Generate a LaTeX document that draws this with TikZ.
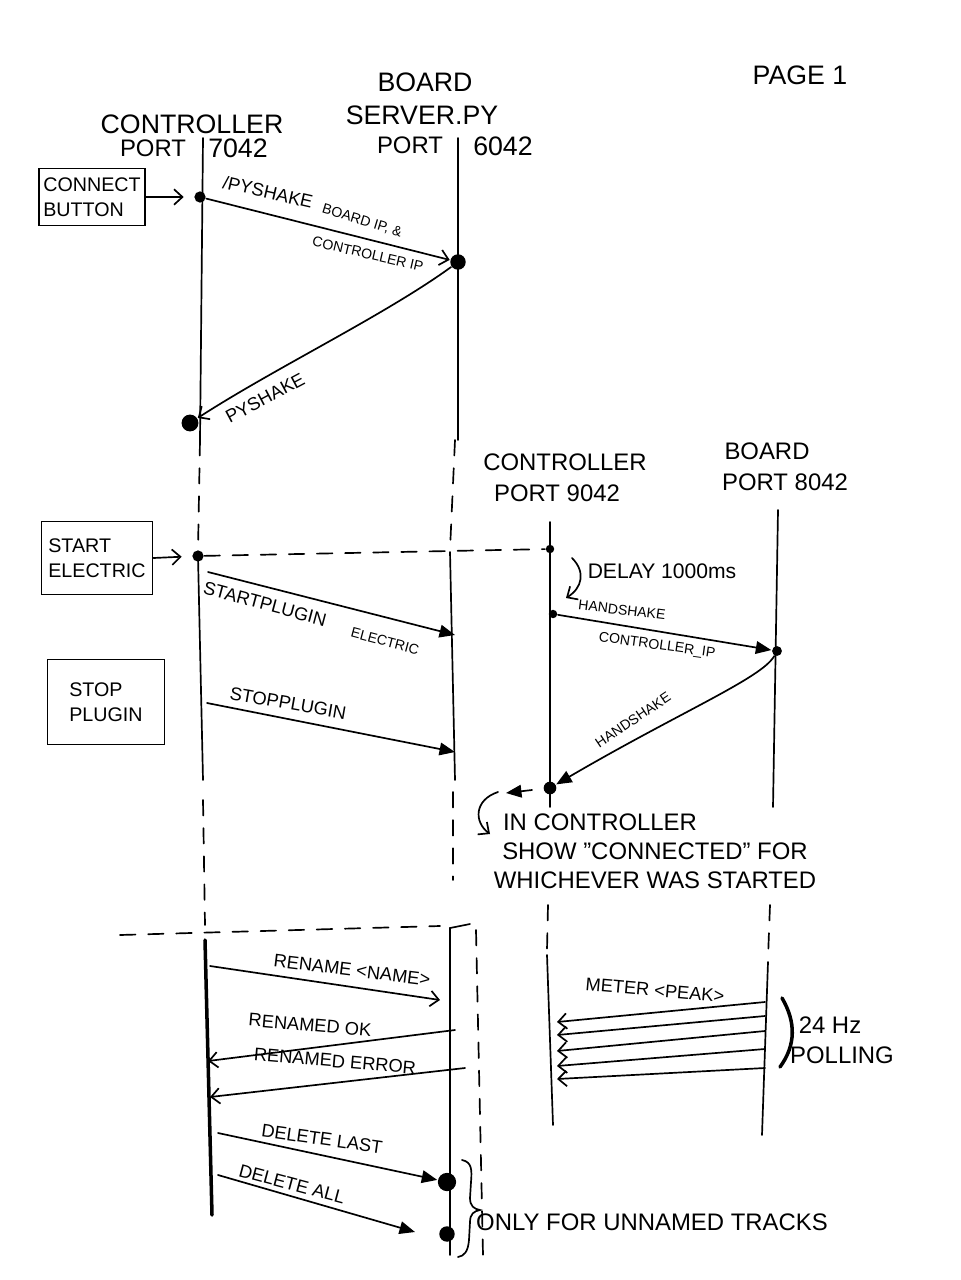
\documentclass[tikz,border=0pt]{standalone}
\usepackage{fontspec}
\setmainfont{Liberation Sans}
\usetikzlibrary{arrows.meta}
\begin{document}
\begin{tikzpicture}[x=0.025cm,y=-0.025cm,line width=1.2pt,line cap=round,
  dotnode/.style={circle,fill=black,inner sep=0pt,minimum size=8pt},
  hdr/.style={font=\fontsize{19}{22}\selectfont,inner sep=1pt},
  big/.style={font=\fontsize{17}{21}\selectfont,inner sep=1pt},
  lbl/.style={font=\fontsize{13}{15}\selectfont,inner sep=1pt},
  sml/.style={font=\fontsize{10}{12}\selectfont,inner sep=1pt},
  msg/.style={-{Triangle[length=11pt,width=9pt]}},
  openmsg/.style={-{Straight Barb[length=6pt,width=11pt]}},
  dashline/.style={dash pattern=on 11pt off 9pt},
  btn/.style={draw,align=left,inner sep=3pt,font=\fontsize{14}{18}\selectfont}]
\useasboundingbox (0,0) rectangle (960,1280);
\fill[white] (0,0) rectangle (960,1280);

% headers
\node[hdr] (hA) at (192,124) {CONTROLLER};
\node[big] (hA1) at (153,148) {PORT};
\node[hdr] (hA2) at (238,148) {7042};
\node[hdr] (hB0) at (425,82) {BOARD};
\node[hdr] (hB) at (422,115) {SERVER.PY};
\node[big] (hB1) at (410,145) {PORT};
\node[hdr] (hB2) at (503,146) {6042};
\node[hdr] (pg) at (800,75) {PAGE 1};
\node[big] (hC) at (565,462) {CONTROLLER};
\node[big] (hC1) at (557,493) {PORT 9042};
\node[big] (hD0) at (767,451) {BOARD};
\node[big] (hD1) at (785,482) {PORT 8042};

% lifeline A
\draw (203,138) -- (200,440);
\draw[dashline] (200,440) -- (198,550);
\draw (198,556) -- (203,780);
\draw[dashline] (203,800) -- (205,925);
\draw[line width=2.5pt] (205,940) -- (212,1215);
% lifeline B
\draw (458,138) -- (458,440);
\draw[dashline] (455,440) -- (450,550);
\draw (450,552) -- (455,780);
\draw[dashline] (453,792) -- (453,880);
\draw (450,1255) -- (450,928) -- (470,924);
\draw[dashline] (476,930) -- (483,1255);
% lifeline C
\draw (550,522) -- (550,807);
\draw[dashline] (548,905) -- (547,950);
\draw (547,955) -- (553,1125);
% lifeline D
\draw (778,510) -- (773,807);
\draw[dashline] (770,905) -- (768,958);
\draw (768,962) -- (762,1135);
% separator
\draw[dashline] (120,935) -- (440,926);

% dots
\node[dotnode] (a1) at (200,197) {};
\node[dotnode,minimum size=11pt] (b1) at (458,262) {};
\node[dotnode,minimum size=12pt] (a2) at (190,423) {};
\node[dotnode,minimum size=8pt] (a3) at (198,556) {};
\node[dotnode,minimum size=6pt] (c1) at (550,549) {};
\node[dotnode,minimum size=6pt] (c2) at (553,614) {};
\node[dotnode,minimum size=7pt] (d1) at (777,651) {};
\node[dotnode,minimum size=9pt] (c3) at (550,788) {};
\node[dotnode,minimum size=13pt] (b2) at (447,1182) {};
\node[dotnode,minimum size=11pt] (b3) at (447,1234) {};

% buttons
\node[btn,minimum width=2.525cm,minimum height=1.425cm] (cb) at (92,197) {CONNECT\\BUTTON};
\node[btn,minimum width=2.775cm,minimum height=1.825cm] (sb) at (97,558) {START\\ELECTRIC};
\node[btn,minimum width=2.925cm,minimum height=2.125cm] (pb) at (106,702) {STOP\\PLUGIN};
\draw[openmsg,shorten >=7pt] (cb.east) -- (a1);
\draw[openmsg,shorten >=7pt] (sb.east) -- (a3);

% pyshake
\draw[openmsg] (a1) -- (b1);
\node[lbl,rotate=-13] (l1) at (268,192) {/PYSHAKE};
\node[sml,rotate=-17] (l2) at (362,221) {BOARD IP, \&};
\node[sml,rotate=-13] (l3) at (368,254) {CONTROLLER IP};
\draw[openmsg] (b1) .. controls (385,315) and (275,368) .. (a2);
\node[lbl,rotate=28] (l4) at (265,398) {PYSHAKE};

% start electric
\draw[dashline] (a3) -- (c1);
\coordinate (bs) at (455,635);
\coordinate (as) at (208,572);
\draw[msg] (as) -- (bs);
\node[lbl,rotate=-15] (l5) at (265,604) {STARTPLUGIN};
\node[sml,rotate=-15] (l6) at (385,641) {ELECTRIC};
\coordinate (ap) at (207,703);
\coordinate (bp) at (455,752);
\draw[msg] (ap) -- (bp);
\node[lbl,rotate=-10] (l7) at (288,703) {STOPPLUGIN};

% delay and handshake
\coordinate (dl0) at (572,558);
\coordinate (dl1) at (566,598);
\draw[openmsg] (dl0) .. controls (586,572) and (582,588) .. (dl1);
\node[font=\fontsize{15}{18}\selectfont,inner sep=1pt] (l8) at (662,571) {DELAY 1000ms};
\draw[msg] (c2) -- (d1);
\node[sml,rotate=-7] (l9) at (622,610) {HANDSHAKE};
\node[sml,rotate=-8] (l10) at (657,646) {CONTROLLER\_IP};
\draw[msg] (d1) .. controls (762,678) and (680,712) .. (c3);
\node[sml,rotate=34] (l11) at (633,720) {HANDSHAKE};
\coordinate (sa0) at (532,790);
\coordinate (sa1) at (506,793);
\draw[msg] (sa0) -- (sa1);
\coordinate (ca0) at (498,792);
\coordinate (ca1) at (490,834);
\draw[openmsg] (ca0) .. controls (474,800) and (474,822) .. (ca1);
\node[big] (t1) at (600,822) {IN CONTROLLER};
\node[big] (t2) at (655,851) {SHOW "CONNECTED" FOR};
\node[big] (t3) at (655,880) {WHICHEVER WAS STARTED};

% rename / delete
\coordinate (r0) at (210,966); \coordinate (r1) at (440,1000);
\draw[openmsg] (r0) -- (r1);
\node[lbl,rotate=-7] (l12) at (352,970) {RENAME <NAME>};
\coordinate (k0) at (455,1030); \coordinate (k1) at (208,1061);
\draw[openmsg] (k0) -- (k1);
\node[lbl,rotate=-5] (l13) at (310,1025) {RENAMED OK};
\coordinate (e0) at (465,1068); \coordinate (e1) at (210,1097);
\draw[openmsg] (e0) -- (e1);
\node[lbl,rotate=-5] (l14) at (335,1061) {RENAMED ERROR};
\coordinate (x0) at (218,1133);
\draw[msg] (x0) -- (b2);
\node[lbl,rotate=-8] (l15) at (322,1139) {DELETE LAST};
\coordinate (y0) at (218,1175); \coordinate (y1) at (415,1232);
\draw[msg] (y0) -- (y1);
\node[lbl,rotate=-15] (l16) at (292,1184) {DELETE ALL};
% brace "}"
\draw (462,1160) .. controls (472,1162) and (472,1170) .. (471,1182)
  -- (470,1198) .. controls (470,1206) and (474,1209) .. (480,1210)
  .. controls (474,1211) and (470,1214) .. (470,1222)
  -- (469,1240) .. controls (468,1252) and (464,1256) .. (458,1257);
\node[big] (t4) at (652,1222) {ONLY FOR UNNAMED TRACKS};

% meter
\foreach \i/\ys/\ye in {1/1002/1022,2/1016/1035,3/1031/1051,4/1049/1066,5/1068/1079}{
  \coordinate (ms\i) at (765,\ys);
  \coordinate (me\i) at (557,\ye);
  \draw[openmsg] (ms\i) -- (me\i);
}
\node[lbl,rotate=-5] (l17) at (655,990) {METER <PEAK>};
\coordinate (p0) at (782,998); \coordinate (p1) at (780,1067);
\draw[line width=2.5pt] (p0) .. controls (796,1022) and (796,1045) .. (p1);
\node[big] (t5) at (830,1025) {24 Hz};
\node[big] (t6) at (842,1055) {POLLING};
\end{tikzpicture}
\end{document}
